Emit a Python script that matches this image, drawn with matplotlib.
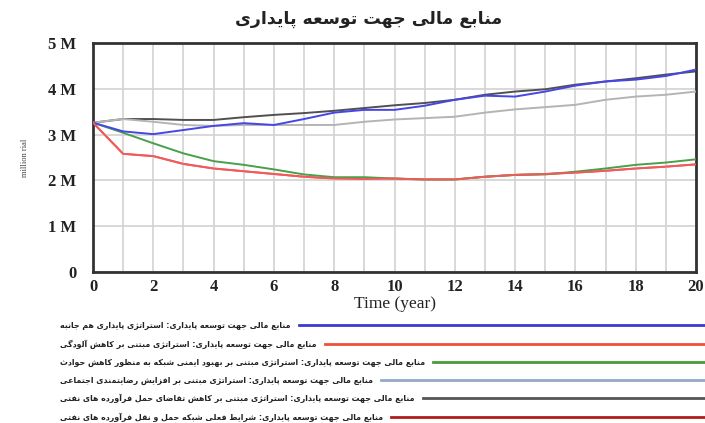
import matplotlib
matplotlib.use('Agg')
import matplotlib.pyplot as plt
import numpy as np
from matplotlib.lines import Line2D

# simulation years and series (million rial)
years = list(range(0, 21))
all_round = [3.26, 3.07, 3.01, 3.10, 3.19, 3.25, 3.21, 3.34, 3.48, 3.54, 3.54,
             3.63, 3.76, 3.85, 3.83, 3.94, 4.07, 4.16, 4.20, 4.28, 4.42]
pollution = [3.26, 2.58, 2.53, 2.36, 2.26, 2.20, 2.14, 2.08, 2.04, 2.03, 2.04,
             2.02, 2.02, 2.08, 2.12, 2.14, 2.17, 2.21, 2.26, 2.30, 2.35]
safety = [3.26, 3.04, 2.81, 2.59, 2.42, 2.34, 2.24, 2.13, 2.07, 2.07, 2.04,
          2.02, 2.02, 2.08, 2.12, 2.13, 2.19, 2.26, 2.34, 2.39, 2.46]
social = [3.26, 3.34, 3.28, 3.21, 3.19, 3.21, 3.21, 3.21, 3.21, 3.28, 3.33,
          3.36, 3.39, 3.48, 3.55, 3.60, 3.65, 3.76, 3.83, 3.87, 3.94]
demand = [3.26, 3.34, 3.34, 3.32, 3.32, 3.38, 3.43, 3.47, 3.52, 3.58, 3.64,
          3.69, 3.76, 3.87, 3.94, 3.99, 4.09, 4.16, 4.23, 4.31, 4.38]
current = pollution

title = 'منابع مالی جهت توسعه پایداری'
labels = [
    'منابع مالی جهت توسعه پایداری: استراتژی پایداری هم جانبه',
    'منابع مالی جهت توسعه پایداری: استراتژی مبتنی بر کاهش آلودگی',
    'منابع مالی جهت توسعه پایداری: استراتژی مبتنی بر بهبود ایمنی شبکه به منظور کاهش حوادث',
    'منابع مالی جهت توسعه پایداری: استراتژی مبتنی بر افزایش رضایتمندی اجتماعی',
    'منابع مالی جهت توسعه پایداری: استراتژی مبتنی بر کاهش تقاضای حمل فرآورده های نفتی',
    'منابع مالی جهت توسعه پایداری: شرایط فعلی شبکه حمل و نقل فرآورده های نفتی',
]

# presentation forms: isolated, final, initial, medial
FORMS = {
    'ا': (0xFE8D, 0xFE8E, None, None), 'آ': (0xFE81, 0xFE82, None, None),
    'ب': (0xFE8F, 0xFE90, 0xFE91, 0xFE92), 'پ': (0xFB56, 0xFB57, 0xFB58, 0xFB59),
    'ت': (0xFE95, 0xFE96, 0xFE97, 0xFE98), 'ث': (0xFE99, 0xFE9A, 0xFE9B, 0xFE9C),
    'ج': (0xFE9D, 0xFE9E, 0xFE9F, 0xFEA0), 'ح': (0xFEA1, 0xFEA2, 0xFEA3, 0xFEA4),
    'د': (0xFEA9, 0xFEAA, None, None), 'ر': (0xFEAD, 0xFEAE, None, None),
    'ز': (0xFEAF, 0xFEB0, None, None), 'ژ': (0xFB8A, 0xFB8B, None, None),
    'س': (0xFEB1, 0xFEB2, 0xFEB3, 0xFEB4), 'ش': (0xFEB5, 0xFEB6, 0xFEB7, 0xFEB8),
    'ض': (0xFEBD, 0xFEBE, 0xFEBF, 0xFEC0), 'ط': (0xFEC1, 0xFEC2, 0xFEC3, 0xFEC4),
    'ظ': (0xFEC5, 0xFEC6, 0xFEC7, 0xFEC8), 'ع': (0xFEC9, 0xFECA, 0xFECB, 0xFECC),
    'ف': (0xFED1, 0xFED2, 0xFED3, 0xFED4), 'ق': (0xFED5, 0xFED6, 0xFED7, 0xFED8),
    'ک': (0xFB8E, 0xFB8F, 0xFB90, 0xFB91), 'گ': (0xFB92, 0xFB93, 0xFB94, 0xFB95),
    'ل': (0xFEDD, 0xFEDE, 0xFEDF, 0xFEE0), 'م': (0xFEE1, 0xFEE2, 0xFEE3, 0xFEE4),
    'ن': (0xFEE5, 0xFEE6, 0xFEE7, 0xFEE8), 'و': (0xFEED, 0xFEEE, None, None),
    'ه': (0xFEE9, 0xFEEA, 0xFEEB, 0xFEEC), 'ی': (0xFBFC, 0xFBFD, 0xFBFE, 0xFBFF),
}


def shape(s):
    """Join Persian letters and reverse for left-to-right drawing"""
    out = []
    for i, c in enumerate(s):
        if c not in FORMS:
            out.append(c)
            continue
        prev = s[i - 1] if i > 0 else ''
        nxt = s[i + 1] if i + 1 < len(s) else ''
        j_prev = prev in FORMS and FORMS[prev][2] is not None
        j_next = nxt in FORMS and FORMS[c][2] is not None
        f = FORMS[c]
        if j_prev and j_next:
            code = f[3]
        elif j_prev:
            code = f[1]
        elif j_next:
            code = f[2]
        else:
            code = f[0]
        out.append(chr(code))
    return ''.join(reversed(out))


W, H = 705, 423
fig = plt.figure(figsize=(W / 100, H / 100), dpi=100)
ax = fig.add_axes([93 / W, 1 - 272 / H, 603 / W, 229 / H])

plot_colors = ['#4646e6', '#f05a5a', '#48a048', '#b4b4b4', '#505050', '#f05a5a']
series = [all_round, pollution, safety, social, demand, current]
zorders = [4, 5, 3, 3, 2, 1]
for vals, col, z in zip(series, plot_colors, zorders):
    ax.plot(years, np.array(vals) * 1e6, color=col, lw=1.4, zorder=z)

ax.set_xlim(0, 20)
ax.set_ylim(0, 5e6)
ax.set_xticks(range(0, 21, 2))
ax.set_xticks(range(0, 21), minor=True)
ax.set_yticks([0, 1e6, 2e6, 3e6, 4e6, 5e6])
ax.set_yticklabels(['0', '1 M', '2 M', '3 M', '4 M', '5 M'])
ax.grid(True, which='both', color='#d2d2d2', lw=1.2, zorder=0)
ax.tick_params(which='both', length=0)
ax.tick_params(axis='x', pad=5)
ax.tick_params(axis='y', pad=12)
for lab in ax.get_xticklabels() + ax.get_yticklabels():
    lab.set_fontfamily('Liberation Serif')
    lab.set_fontweight('bold')
    lab.set_fontsize(12)
    lab.set_color('#222222')
for sp in ax.spines.values():
    sp.set_linewidth(2)
    sp.set_color('#333333')

ax.set_xlabel('Time (year)', fontfamily='Liberation Serif', fontsize=12.5,
              color='#222222', labelpad=1)
ax.set_ylabel('million rial', fontfamily='Liberation Serif', fontsize=6,
              color='#444444', labelpad=14)

fig.text(369 / W, 1 - 19 / H, shape(title), ha='center', va='center',
         fontsize=12.5, fontweight='bold', color='#222222')

# legend rows: text then a line out to the right edge
legend_colors = ['#3a3ad2', '#f0503a', '#4a9a3c', '#94aac4', '#555555', '#b01c1c']
rows_y = [325, 344, 362, 380, 398, 417]
texts = []
for lab, yy in zip(labels, rows_y):
    t = fig.text(60 / W, 1 - yy / H, shape(lab), ha='left', va='center',
                 fontsize=5.7, fontweight='bold', color='#222222')
    texts.append(t)

fig.canvas.draw()
renderer = fig.canvas.get_renderer()
for t, col, yy in zip(texts, legend_colors, rows_y):
    bb = t.get_window_extent(renderer)
    x0 = (bb.x1 + 8) / W
    fig.add_artist(Line2D([x0, 1.0], [1 - yy / H, 1 - yy / H],
                          transform=fig.transFigure, color=col, lw=2))

fig.savefig('out.png', dpi=100)
